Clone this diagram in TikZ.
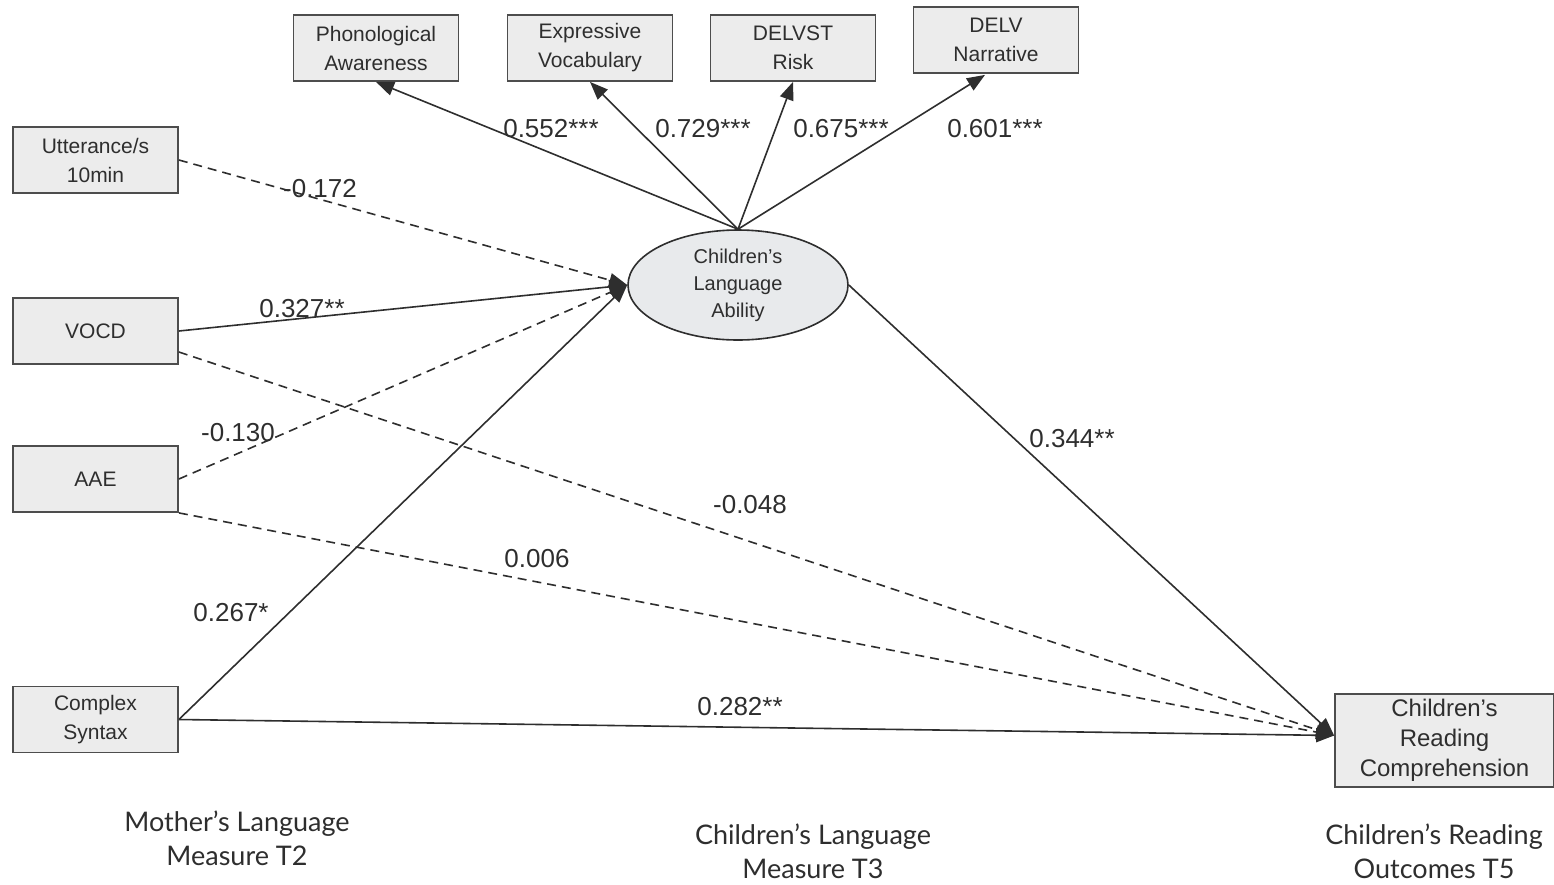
\documentclass[tikz,border=0pt]{standalone}
\usepackage{fontspec}
\setmainfont{Liberation Sans}
\newfontfamily\latofont{Lato}
\usetikzlibrary{arrows.meta,calc,shapes.geometric}
\definecolor{boxfill}{HTML}{ECECEC}
\definecolor{ellfill}{HTML}{E8EAEC}
\definecolor{ink}{HTML}{2E2E2E}
\begin{document}
\begin{tikzpicture}[x=1pt,y=-1pt,
  box/.style={draw=ink!85, line width=1.8pt, fill=boxfill, minimum width=165pt, minimum height=66pt,
    inner sep=0pt, align=center, font=\fontsize{21}{29}\selectfont, text=ink},
  latent/.style={ellipse, draw=ink, line width=1.6pt, fill=ellfill, minimum width=220pt, minimum height=110pt,
    inner sep=0pt, align=center, font=\fontsize{20}{27}\selectfont, text=ink},
  conn/.style={line width=1.6pt, draw=ink, -{Triangle[length=18pt,width=14pt]}},
  dsh/.style={conn, dash pattern=on 9pt off 6pt},
  lbl/.style={font=\fontsize{26}{30}\selectfont, text=ink, inner sep=0pt},
  grp/.style={font=\latofont\fontsize{27}{34}\selectfont, align=center, text=ink, inner sep=0pt}]
\useasboundingbox (0,0) rectangle (1554,884);
% indicator boxes
\node[box] (pa) at (376,48) {Phonological\\Awareness};
\node[box] (ev) at (590,48) {Expressive\\Vocabulary};
\node[box] (dr) at (793,48) {DELVST\\Risk};
\node[box] (dn) at (996,40) {DELV\\Narrative};
% predictors
\node[box] (ut) at (95.5,160) {Utterance/s\\10min};
\node[box] (vo) at (95.5,331) {VOCD};
\node[box] (aa) at (95.5,479) {AAE};
\node[box] (cs) at (95.5,719.5) {Complex\\Syntax};
% latent
\node[latent] (cl) at (738,285) {Children’s\\Language\\Ability};
% outcome
\node[box, minimum width=219pt, minimum height=93pt, font=\fontsize{24}{30}\selectfont] (rc) at (1444.5,740.5) {Children’s\\Reading\\Comprehension};
% connectors
\coordinate (vo2) at ($(vo.east)+(0,21)$);
\coordinate (rcin) at ($(rc.west)+(0,-5)$);
\draw[conn] (cl.north) -- (pa.south);
\draw[conn] (cl.north) -- (ev.south);
\draw[conn] (cl.north) -- (dr.south);
\draw[conn] (cl.north) -- ($(dn.south)+(-11,1)$);
\draw[dsh] (ut.east) -- (cl.west);
\draw[conn] (vo.east) -- (cl.west);
\draw[dsh] (aa.east) -- (cl.west);
\draw[conn] (cs.east) -- (cl.west);
\draw[dsh] (vo2) -- (rcin);
\draw[dsh] (aa.south east) -- (rcin);
\draw[conn] (cs.east) -- (rcin);
\draw[conn] (cl.east) -- (rcin);
% path labels
\node[lbl] (l1) at (551,129) {0.552***};
\node[lbl] (l2) at (703,129) {0.729***};
\node[lbl] (l3) at (841,129) {0.675***};
\node[lbl] (l4) at (995,129) {0.601***};
\node[lbl] (l5) at (320,189) {-0.172};
\node[lbl] (l6) at (302,309) {0.327**};
\node[lbl] (l7) at (238,433) {-0.130};
\node[lbl] (l8) at (1072,439) {0.344**};
\node[lbl] (l9) at (750,505) {-0.048};
\node[lbl] (l10) at (537,559) {0.006};
\node[lbl] (l11) at (231,613) {0.267*};
\node[lbl] (l12) at (740,707) {0.282**};
% group labels
\node[grp] (g1) at (237,838) {Mother’s Language\\Measure T2};
\node[grp] (g2) at (813,851) {Children’s Language\\Measure T3};
\node[grp] (g3) at (1434,851) {Children’s Reading\\Outcomes T5};
\end{tikzpicture}
\end{document}
